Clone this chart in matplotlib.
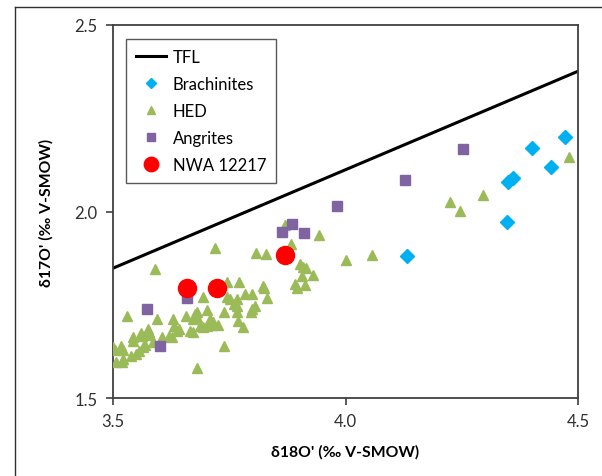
import matplotlib
matplotlib.use("Agg")
import matplotlib.pyplot as plt
from matplotlib.lines import Line2D

plt.rcParams['font.family'] = ['Lato', 'DejaVu Sans']

# terrestrial fractionation line end points
tfl_x = [3.5, 4.5]
tfl_y = [1.848, 2.376]

brach_x = [4.472, 4.401, 4.442, 4.349, 4.360, 4.347, 4.132]
brach_y = [2.200, 2.170, 2.119, 2.079, 2.090, 1.972, 1.881]

hed_x = [3.870, 3.943, 3.883, 3.719, 3.808, 3.829, 4.001, 4.057, 3.590, 3.902,
         3.909, 3.915, 3.930, 3.906, 3.891, 3.896, 3.913, 3.745, 3.771, 3.823,
         3.825, 3.694, 3.745, 3.752, 3.767, 3.784, 3.799, 3.831, 3.760, 3.767,
         3.799, 3.805, 3.739, 3.767, 3.797, 3.702, 3.681, 3.676, 3.657, 3.672,
         3.681, 3.629, 3.595, 3.530, 3.769, 3.709, 3.715, 3.713, 3.687, 3.694,
         3.702, 3.666, 3.672, 3.631, 3.638, 3.642, 3.620, 3.627, 3.605, 3.575,
         3.577, 3.580, 3.560, 3.562, 3.543, 3.543, 3.586, 3.569, 3.565, 3.556,
         3.549, 3.539, 3.500, 3.504, 3.517, 3.522, 3.522, 3.519, 3.506, 3.739,
         3.681, 4.225, 4.246, 4.296, 4.481, 3.725, 3.780]
hed_y = [1.964, 1.937, 1.913, 1.902, 1.889, 1.886, 1.870, 1.883, 1.846, 1.859,
         1.851, 1.849, 1.830, 1.827, 1.806, 1.795, 1.803, 1.811, 1.811, 1.800,
         1.795, 1.771, 1.771, 1.765, 1.765, 1.779, 1.779, 1.768, 1.752, 1.747,
         1.739, 1.747, 1.731, 1.731, 1.731, 1.736, 1.731, 1.725, 1.720, 1.712,
         1.717, 1.712, 1.712, 1.720, 1.706, 1.712, 1.704, 1.696, 1.693, 1.690,
         1.693, 1.680, 1.677, 1.693, 1.680, 1.685, 1.666, 1.664, 1.664, 1.685,
         1.677, 1.669, 1.674, 1.666, 1.664, 1.653, 1.650, 1.642, 1.637, 1.626,
         1.618, 1.613, 1.637, 1.629, 1.639, 1.629, 1.605, 1.597, 1.597, 1.639,
         1.580, 2.025, 2.001, 2.044, 2.146, 1.696, 1.690]

ang_x = [4.253, 4.128, 3.982, 3.911, 3.885, 3.863, 3.659, 3.573, 3.601]
ang_y = [2.168, 2.084, 2.015, 1.942, 1.966, 1.945, 1.768, 1.739, 1.639]

nwa_x = [3.659, 3.724, 3.870]
nwa_y = [1.795, 1.795, 1.883]

fig = plt.figure(figsize=(6.02, 4.77), dpi=100)
ax = fig.add_axes([0.1877, 0.1635, 0.7725, 0.782])

ax.plot(tfl_x, tfl_y, color='black', lw=2.2, label='TFL', zorder=2)
ax.plot(brach_x, brach_y, ls='none', marker='D', ms=7, color='#00B0F0',
        label='Brachinites', zorder=3)
ax.plot(hed_x, hed_y, ls='none', marker='^', ms=7.2, color='#9BBB59',
        label='HED', zorder=3)
ax.plot(ang_x, ang_y, ls='none', marker='s', ms=7.5, color='#8064A2',
        label='Angrites', zorder=4)
ax.plot(nwa_x, nwa_y, ls='none', marker='o', ms=13, color='#FF0000',
        label='NWA 12217', zorder=5)

ax.set_xlim(3.5, 4.5)
ax.set_ylim(1.5, 2.5)
ax.set_xticks([3.5, 4.0, 4.5])
ax.set_yticks([1.5, 2.0, 2.5])
ax.set_xticklabels(['3.5', '4.0', '4.5'])
ax.set_yticklabels(['1.5', '2.0', '2.5'])
ax.tick_params(direction='out', length=5, width=1.2, color='#404040',
               labelsize=12, labelcolor='#303030', pad=6)
for sp in ax.spines.values():
    sp.set_color('#404040')
    sp.set_linewidth(1.3)

ax.set_xlabel("δ18O' (‰ V-SMOW)", fontsize=11.3, fontweight='bold', labelpad=11)
ax.set_ylabel("δ17O' (‰ V-SMOW)", fontsize=11.3, fontweight='bold', labelpad=15)

leg = ax.legend(loc='upper left', bbox_to_anchor=(0.028, 0.963), fontsize=12,
                frameon=True, fancybox=False, borderpad=0.6, labelspacing=0.66,
                handlelength=1.8, handletextpad=0.4, markerscale=0.8,
                borderaxespad=0)
leg.get_frame().set_edgecolor('#303030')
leg.get_frame().set_linewidth(1.0)

# outer frame of the chart area
fig.add_artist(Line2D([15 / 602, 15 / 602], [0, 1 - 8 / 477], color='#303030', lw=1.0))
fig.add_artist(Line2D([15 / 602, 1], [1 - 8 / 477, 1 - 8 / 477], color='#303030', lw=1.0))

fig.savefig('out.png', dpi=100)
